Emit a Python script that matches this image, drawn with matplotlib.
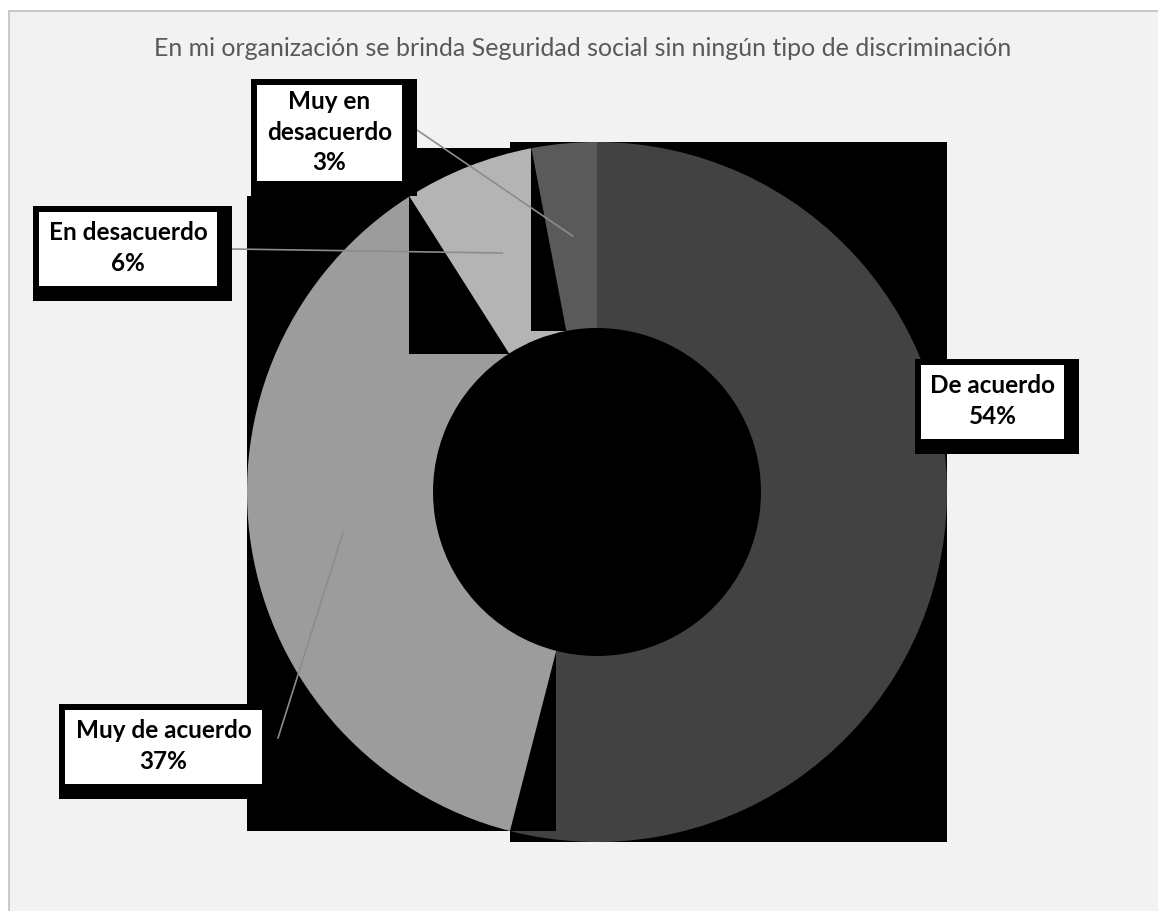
import textwrap
import numpy as np
import matplotlib
matplotlib.use('Agg')
import matplotlib.pyplot as plt
from matplotlib.patches import Rectangle

# datos
categorias = ['De acuerdo', 'Muy de acuerdo', 'En desacuerdo', 'Muy en desacuerdo']
porcentajes = [54, 37, 6, 3]
titulo = 'En mi organización se brinda Seguridad social sin ningún tipo de discriminación'

# estilos
colores = ['#424242', '#9c9c9c', '#b4b4b4', '#5a5a5a']
plt.rcParams['font.family'] = ['Lato', 'DejaVu Sans']

W, H = 1158, 911
fig = plt.figure(figsize=(W / 100, H / 100), dpi=100, facecolor='white')
ax = fig.add_axes([0, 0, 1, 1])

# fondo del area del grafico
ax.add_patch(Rectangle((9, -20), W + 20, H - 11 + 20, facecolor='#f2f2f2',
                       edgecolor='#c0c0c0', linewidth=1.2, zorder=0))

# dona
cx, cy, R, ancho = 597, H - 492, 350, 186
wedges, _ = ax.pie(porcentajes, colors=colores, startangle=90, counterclock=False,
                   center=(cx, cy), radius=R,
                   wedgeprops=dict(width=ancho, linewidth=0))

# cada porcion lleva un recuadro negro detras (como en la imagen original)
for i, w in enumerate(wedges):
    bb = w.get_path().get_extents()
    ax.add_patch(Rectangle((bb.x0, bb.y0), bb.width, bb.height,
                           facecolor='black', edgecolor='none', zorder=2 + 2 * i))
    w.set_zorder(3 + 2 * i)

# etiquetas: caja blanca (x0, y0, x1, y1 en pixeles desde arriba)
cajas = {
    'De acuerdo': (921, 365, 1064, 439),
    'Muy de acuerdo': (65, 710, 262, 784),
    'En desacuerdo': (39, 212, 217, 286),
    'Muy en desacuerdo': (257, 85, 402, 181),
}
corte = {'Muy en desacuerdo': 10}
inicio_linea = {
    'Muy en desacuerdo': (417, 130),
    'En desacuerdo': (232, 249),
    'Muy de acuerdo': (278, 738),
}

for w, cat, pct in zip(wedges, categorias, porcentajes):
    x0, y0, x1, y1 = cajas[cat]
    ax.add_patch(Rectangle((x0 - 6, H - y1 - 15), x1 - x0 + 21, y1 - y0 + 21,
                           facecolor='black', edgecolor='none', zorder=20))
    ax.add_patch(Rectangle((x0, H - y1), x1 - x0, y1 - y0,
                           facecolor='white', edgecolor='none', zorder=21))
    texto = textwrap.fill(cat, corte.get(cat, 20)) + '\n' + str(pct) + '%'
    ax.text((x0 + x1) / 2, H - (y0 + y1) / 2 + 1, texto, ha='center', va='center',
            fontsize=17.5, fontweight='bold', color='black', linespacing=1.4, zorder=22)
    if cat in inicio_linea:
        ang = np.deg2rad((w.theta1 + w.theta2) / 2)
        rm = R - ancho / 2
        px, py = cx + rm * np.cos(ang), cy + rm * np.sin(ang)
        sx, sy = inicio_linea[cat]
        ax.plot([sx, px], [H - sy, py], color='#8c8c8c', linewidth=1.2, zorder=15)

ax.text(583, H - 48, titulo, ha='center', va='center', fontsize=18, color='#595959', zorder=30)

ax.set_xlim(0, W)
ax.set_ylim(0, H)
ax.set_aspect('equal')
ax.axis('off')

fig.savefig('out.png', dpi=100, facecolor='white')
